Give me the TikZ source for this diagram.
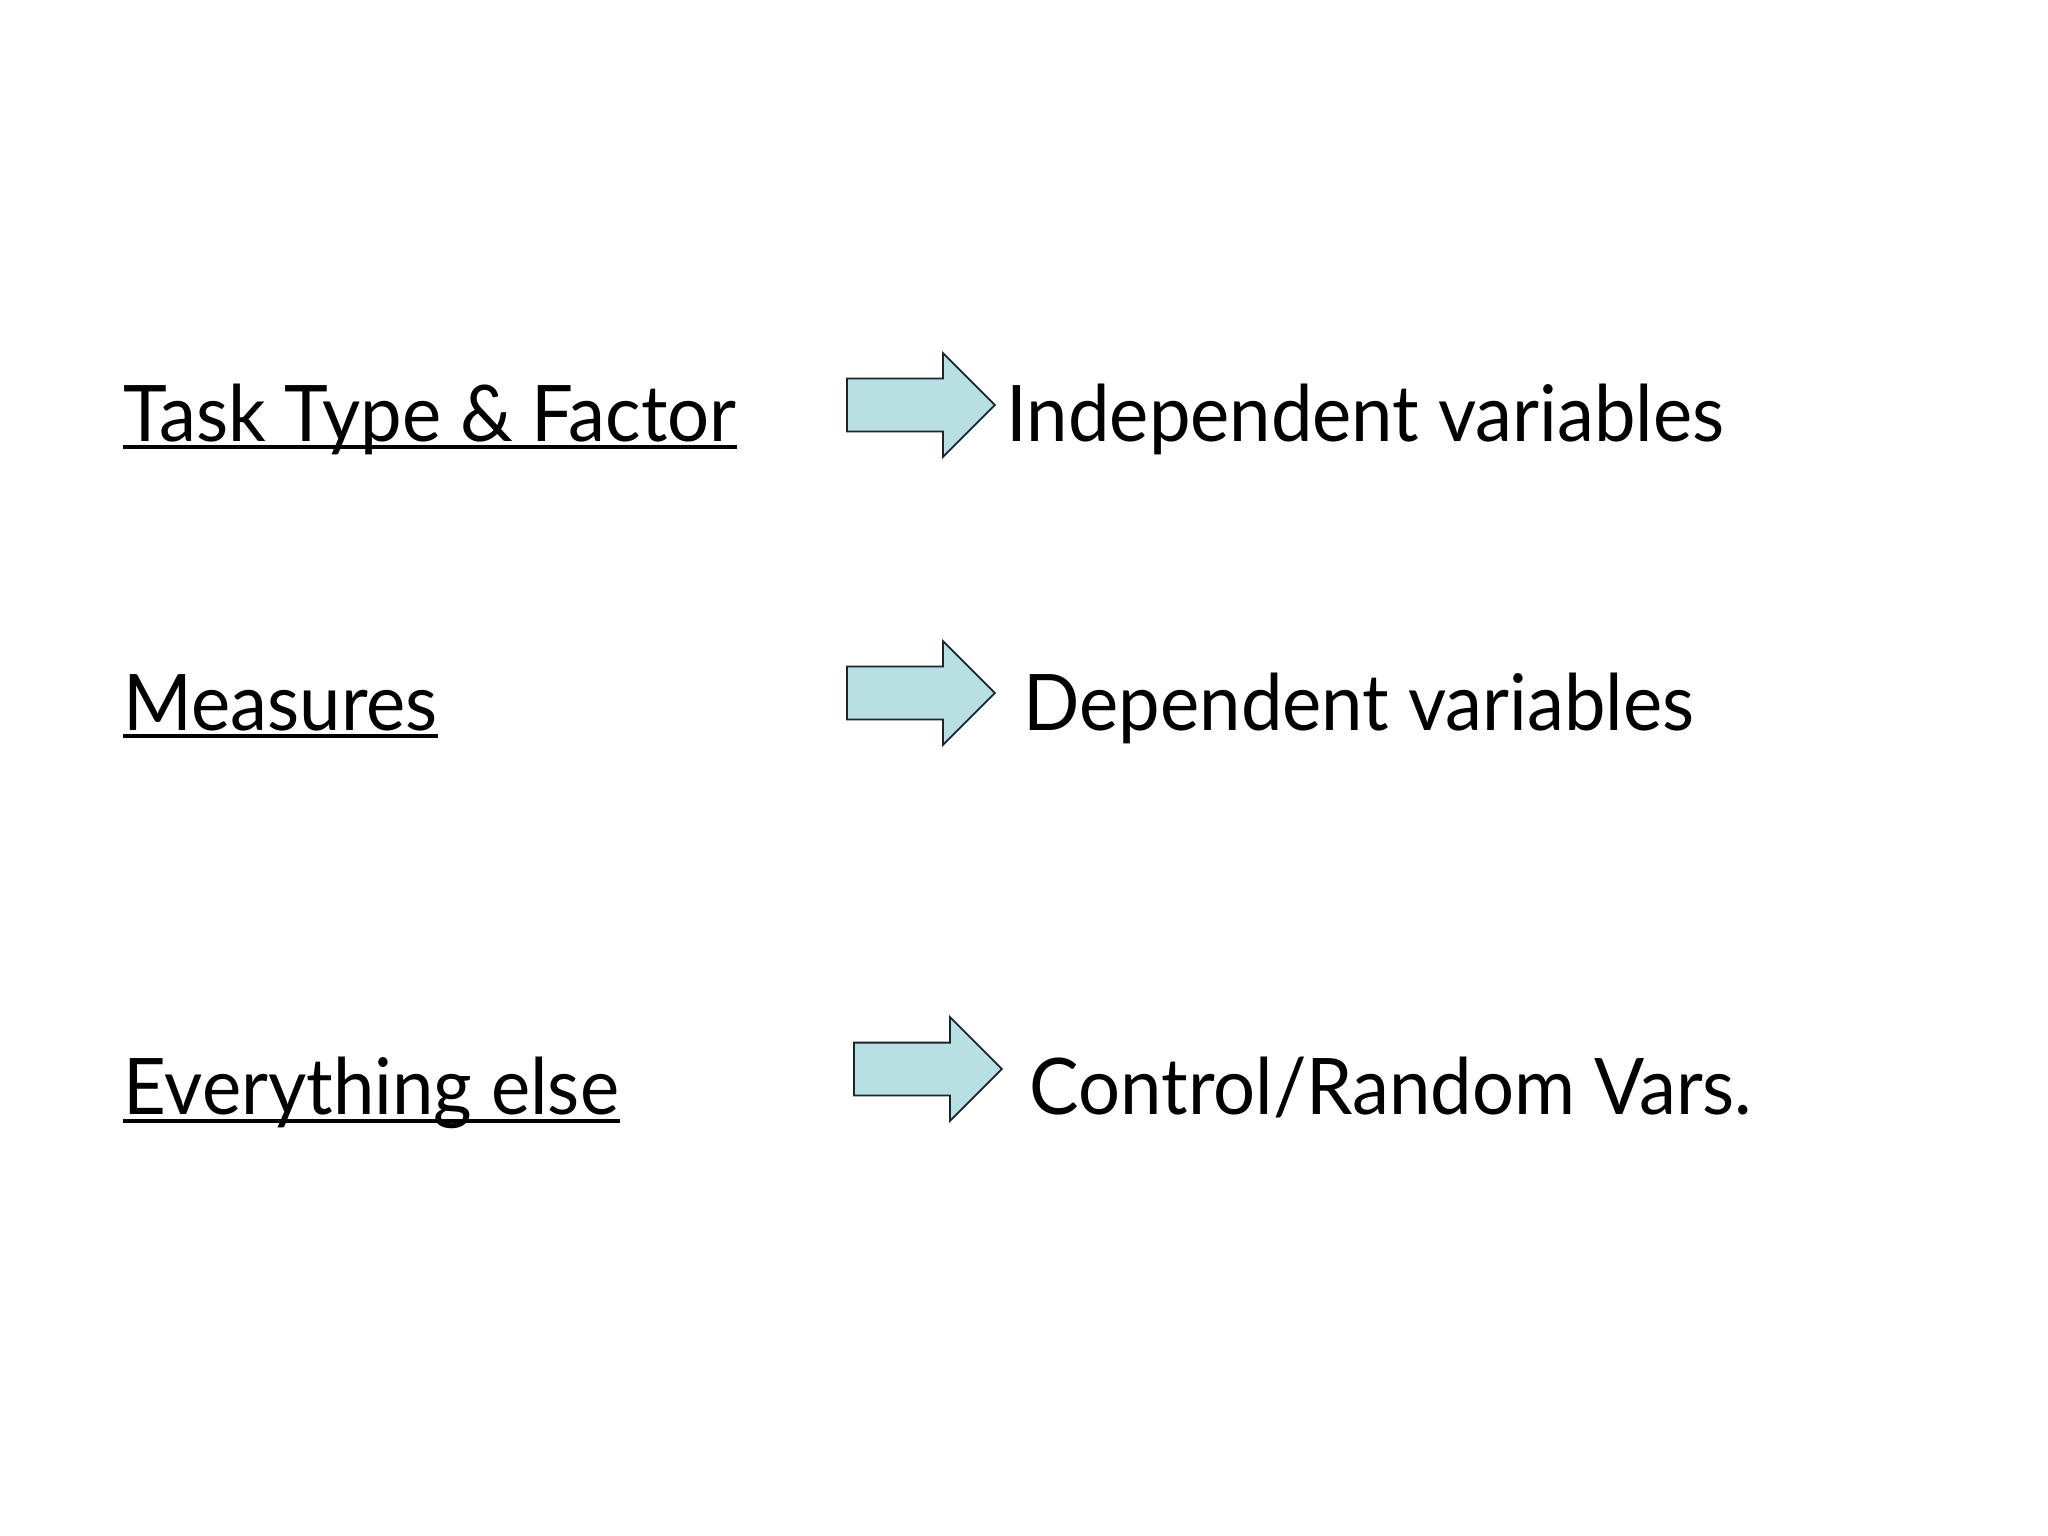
\documentclass[tikz,border=0pt]{standalone}
\usepackage{fontspec}
\setmainfont[FakeStretch=0.95]{Lato}
\usetikzlibrary{shapes.arrows}
\definecolor{arrowfill}{RGB}{184,224,226}
\definecolor{arrowline}{RGB}{26,38,44}

\begin{document}
\begin{tikzpicture}[x=0.01cm, y=-0.01cm,
    label/.style={anchor=base west, inner sep=0pt, font=\fontsize{22.2pt}{26pt}\selectfont},
    uline/.style={line width=0.04cm},
    bigarrow/.style={single arrow, draw=arrowline, fill=arrowfill, line width=0.5pt,
      anchor=tail, inner xsep=0pt, inner ysep=0.255cm, minimum height=1.48cm,
      single arrow head extend=0.255cm, single arrow head indent=0pt}]
  \useasboundingbox[fill=white] (0,0) rectangle (2048,1536);
  \node[label] (task) at (123,441) {Task Type \& Factor};
  \node[label] (meas) at (123,730) {Measures\ };
  \node[label] (rest) at (123,1114) {Everything else};
  \draw[uline] ([yshift=-0.06cm]task.base west) -- ([yshift=-0.06cm]task.base east);
  \draw[uline] ([yshift=-0.06cm]meas.base west) -- ([yshift=-0.06cm]meas.base east);
  \draw[uline] ([yshift=-0.07cm]rest.base west) -- ([yshift=-0.07cm]rest.base east);
  \node[bigarrow] (arr1) at (846,405) {};
  \node[bigarrow] (arr2) at (846,693) {};
  \node[bigarrow] (arr3) at (853,1069) {};
  \node[label] (indep) at (1006,441) {Independent variables};
  \node[label] (dep) at (1023,730) {Dependent variables};
  \node[label] (ctrl) at (1029,1114) {Control/Random Vars.};
\end{tikzpicture}
\end{document}
